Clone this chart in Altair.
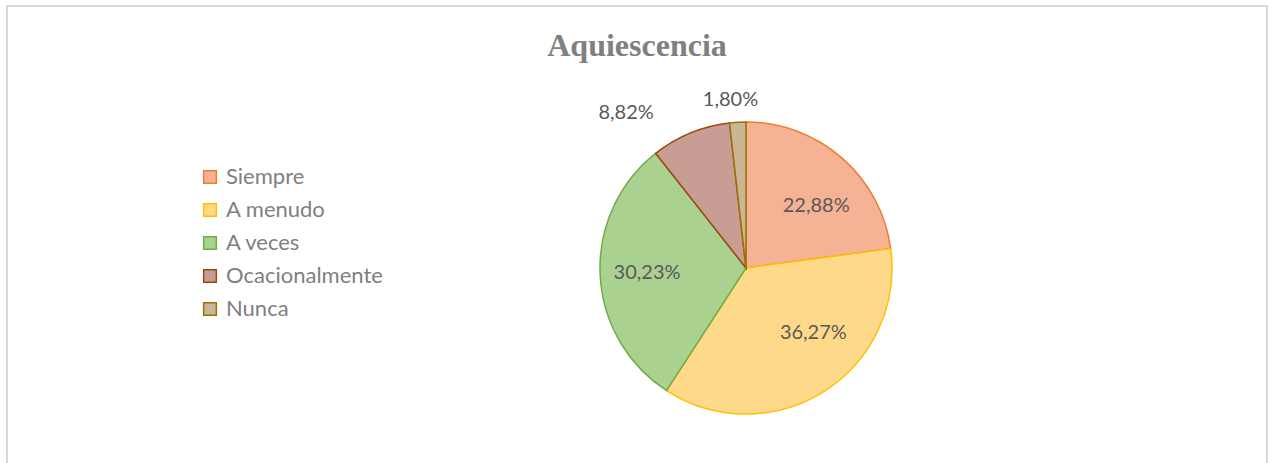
import altair as alt
import pandas as pd

categories = ["Siempre", "A menudo", "A veces", "Ocacionalmente", "Nunca"]
values = [22.88, 36.27, 30.23, 8.82, 1.80]
labels = ["22,88%", "36,27%", "30,23%", "8,82%", "1,80%"]
fills = ["#F5B295", "#FFD98A", "#AAD190", "#C89E94", "#CBB597"]
strokes = ["#ED7D31", "#FFC000", "#70AD47", "#9E480E", "#997300"]

df = pd.DataFrame({"cat": categories, "val": values, "lab": labels,
                   "order": list(range(len(categories)))})

CX, CY, R = 746, 268, 146

theta = alt.Theta("val:Q", stack=True)
order = alt.Order("order:Q")
fill = alt.Fill("cat:N", scale=alt.Scale(domain=categories, range=fills),
                sort=categories,
                legend=alt.Legend(title=None, orient="none", legendX=199, legendY=166,
                                  symbolType="square", symbolSize=160,
                                  symbolStrokeWidth=1.5,
                                  labelFont="Lato", labelFontSize=22,
                                  labelColor="#7F7F7F", rowPadding=11,
                                  labelOffset=5))
stroke = alt.Stroke("cat:N", scale=alt.Scale(domain=categories, range=strokes),
                    sort=categories, legend=None)

base = alt.Chart(df)

pie = base.mark_arc(radius=R, strokeWidth=1.5).encode(
    theta=theta, order=order, fill=fill, stroke=stroke,
    x=alt.value(CX), y=alt.value(CY))

txt_kw = dict(font="Lato", fontSize=20, color="#595959", align="center", baseline="middle")


def label_layer(cat, radius, dx=0, dy=0):
    return base.mark_text(radius=radius, dx=dx, dy=dy, **txt_kw).encode(
        theta=theta, order=order, text="lab:N", x=alt.value(CX), y=alt.value(CY),
        opacity=alt.condition(alt.datum.cat == cat, alt.value(1), alt.value(0)))


lab_layers = [
    label_layer("Siempre", 96, dx=7, dy=10),
    label_layer("A menudo", 96, dx=16, dy=-16),
    label_layer("A veces", 96, dx=-3, dy=1),
    label_layer("Ocacionalmente", 168, dx=-56),
    label_layer("Nunca", 168, dx=-6),
]

title_df = pd.DataFrame({"t": ["Aquiescencia"]})
title = alt.Chart(title_df).mark_text(font="Liberation Serif", fontSize=32, fontWeight="bold",
                                      color="#808080", align="center",
                                      baseline="alphabetic").encode(
    text="t:N", x=alt.value(637), y=alt.value(56))

border = alt.Chart(title_df).mark_rect(fillOpacity=0, stroke="#D9D9D9", strokeWidth=2).encode(
    x=alt.value(7), x2=alt.value(1267), y=alt.value(6), y2=alt.value(480))

chart = alt.layer(border, pie, *lab_layers, title).properties(
    width=1273, height=463, autosize=alt.AutoSizeParams(type="none"), padding=0
).configure_view(stroke=None)

chart.save("out.html", embed_options={"renderer": "svg", "actions": False})
